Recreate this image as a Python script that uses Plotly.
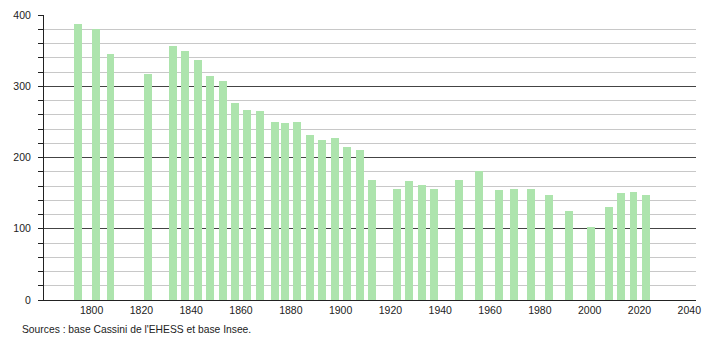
import plotly.graph_objects as go

years = [1793, 1800, 1806, 1821, 1831, 1836, 1841, 1846, 1851, 1856, 1861, 1866,
         1872, 1876, 1881, 1886, 1891, 1896, 1901, 1906, 1911, 1921, 1926, 1931,
         1936, 1946, 1954, 1962, 1968, 1975, 1982, 1990, 1999, 2006, 2011, 2016, 2021]
population = [388, 380, 345, 317, 357, 350, 337, 314, 308, 277, 267, 265,
              250, 249, 250, 231, 224, 227, 215, 210, 168, 156, 167, 161,
              156, 168, 181, 155, 156, 156, 148, 125, 102, 130, 150, 152, 147]
x_ticks = [1800, 1820, 1840, 1860, 1880, 1900, 1920, 1940, 1960, 1980, 2000, 2020, 2040]
y_ticks = [0, 100, 200, 300, 400]
source_text = "Sources : base Cassini de l'EHESS et base Insee."

fig = go.Figure()
fig.add_trace(go.Bar(
    x=years, y=population, width=3.2, offset=0,
    marker=dict(color="#ade4ad", line=dict(width=0)),
    hoverinfo="x+y",
))

fig.update_layout(
    width=710, height=340,
    margin=dict(l=44, r=9, t=11, b=40),
    paper_bgcolor="white", plot_bgcolor="white",
    showlegend=False,
    font=dict(family="Liberation Sans, Arial, sans-serif", size=10.5, color="#222"),
    bargap=0,
    xaxis=dict(
        range=[1780.9, 2042.7],
        tickvals=x_ticks, ticktext=[str(t) for t in x_ticks],
        showgrid=False, zeroline=False,
        showline=True, linecolor="#222", linewidth=1,
        ticks="", ticklabelstandoff=0,
    ),
    yaxis=dict(
        range=[0, 400],
        tickvals=y_ticks,
        showgrid=True, gridcolor="#444", gridwidth=1,
        zeroline=False,
        showline=True, linecolor="#222", linewidth=1,
        ticks="outside", ticklen=5, tickcolor="#222",
        ticklabelstandoff=5,
        minor=dict(dtick=20, showgrid=True, gridcolor="#c8c8c8", gridwidth=1,
                   ticks="outside", ticklen=5, tickcolor="#222"),
    ),
    annotations=[dict(
        text=source_text, xref="paper", yref="paper",
        x=-24/657, y=-30/289, xanchor="left", yanchor="middle",
        showarrow=False, font=dict(size=10.3, color="#222"),
    )],
)

fig.write_html("out.html")
